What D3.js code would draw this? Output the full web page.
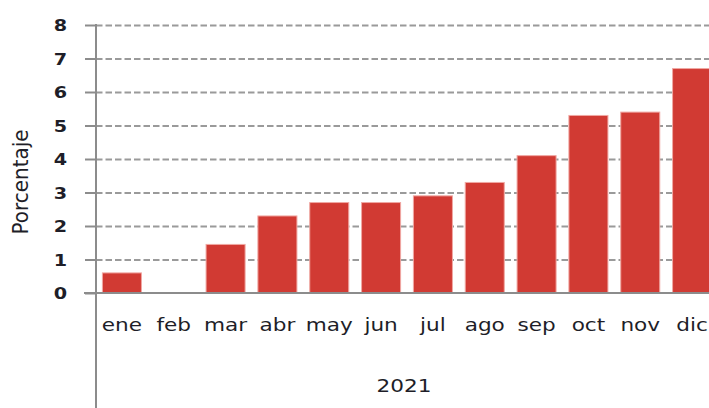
<!DOCTYPE html>
<html>
<head>
<meta charset="utf-8">
<script src="https://cdn.jsdelivr.net/npm/d3@7"></script>
<style>
    body { margin: 0; background: #fff; }
    text { font-family: "DejaVu Sans", Verdana, sans-serif; fill: #1e1e28; }
</style>
</head>
<body>
<svg id="chart" width="709" height="408"></svg>
<script>
var months = ["ene", "feb", "mar", "abr", "may", "jun", "jul", "ago", "sep", "oct", "nov", "dic"];
var values = [0.6, null, 1.45, 2.3, 2.7, 2.7, 2.9, 3.3, 4.1, 5.3, 5.4, 6.7];
var yTicks = [0, 1, 2, 3, 4, 5, 6, 7, 8];
var yearLabel = "2021";
var yTitle = "Porcentaje";

// the source picture is stretched sideways, so text gets the same stretch
var stretch = 1.27;
var axisX = 96;
var svg = d3.select("#chart");

var x = d3.scaleBand()
    .domain(months)
    .range([axisX, 718])
    .paddingInner(0.247)
    .paddingOuter(0.1235);

var y = d3.scaleLinear()
    .domain([0, 8])
    .range([293, 25]);

// dashed gridlines
svg.append("g")
    .attr("transform", "translate(" + axisX + ",0)")
    .call(d3.axisLeft(y).tickValues(yTicks.filter(t => t > 0)).tickSize(-(709 - axisX)).tickFormat(""))
    .call(g => g.select(".domain").remove())
    .call(g => g.selectAll("line")
        .attr("stroke", "#9a9a9a")
        .attr("stroke-width", 2)
        .attr("stroke-dasharray", "6.5,3"));

// bars, feb has no value
svg.append("g")
    .selectAll("rect")
    .data(months.map((m, i) => ({month: m, value: values[i]})).filter(d => d.value != null))
    .enter()
    .append("rect")
    .attr("x", d => x(d.month))
    .attr("width", x.bandwidth())
    .attr("y", d => y(d.value))
    .attr("height", d => y(0) - y(d.value))
    .attr("fill", "#d13a33")
    .attr("stroke", "#f0a8a3")
    .attr("stroke-width", 1);

// y axis ticks and labels
svg.append("g")
    .attr("transform", "translate(" + axisX + ",0)")
    .call(d3.axisLeft(y).tickValues(yTicks).tickSize(11).tickPadding(0))
    .call(g => g.select(".domain").remove())
    .call(g => g.selectAll("line").attr("stroke", "#8c8c8c").attr("stroke-width", 2))
    .call(g => g.selectAll("text")
        .attr("x", -29 / 1.2)
        .attr("dy", "0.36em")
        .attr("transform", "scale(1.2,1)")
        .style("font-size", "16px")
        .style("font-weight", "bold"));

// baseline and vertical axis line
svg.append("line")
    .attr("x1", 84).attr("x2", 709)
    .attr("y1", y(0)).attr("y2", y(0))
    .attr("stroke", "#8c8c8c")
    .attr("stroke-width", 2);

svg.append("line")
    .attr("x1", axisX).attr("x2", axisX)
    .attr("y1", y(8) - 1).attr("y2", 408)
    .attr("stroke", "#8c8c8c")
    .attr("stroke-width", 2);

// month labels
svg.append("g")
    .attr("transform", "translate(0," + y(0) + ")")
    .call(d3.axisBottom(x).tickSize(0).tickPadding(0))
    .call(g => g.select(".domain").remove())
    .call(g => g.selectAll("text")
        .attr("y", 38)
        .attr("dy", 0)
        .attr("transform", "scale(" + stretch + ",1)")
        .style("font-size", "17px"));

svg.append("text")
    .attr("transform", "translate(404,392) scale(" + stretch + ",1)")
    .attr("text-anchor", "middle")
    .style("font-size", "17px")
    .text(yearLabel);

svg.append("text")
    .attr("transform", "translate(28,182) scale(" + stretch + ",1) rotate(-90)")
    .attr("text-anchor", "middle")
    .attr("textLength", 105)
    .attr("lengthAdjust", "spacingAndGlyphs")
    .style("font-size", "17px")
    .text(yTitle);
</script>
</body>
</html>
